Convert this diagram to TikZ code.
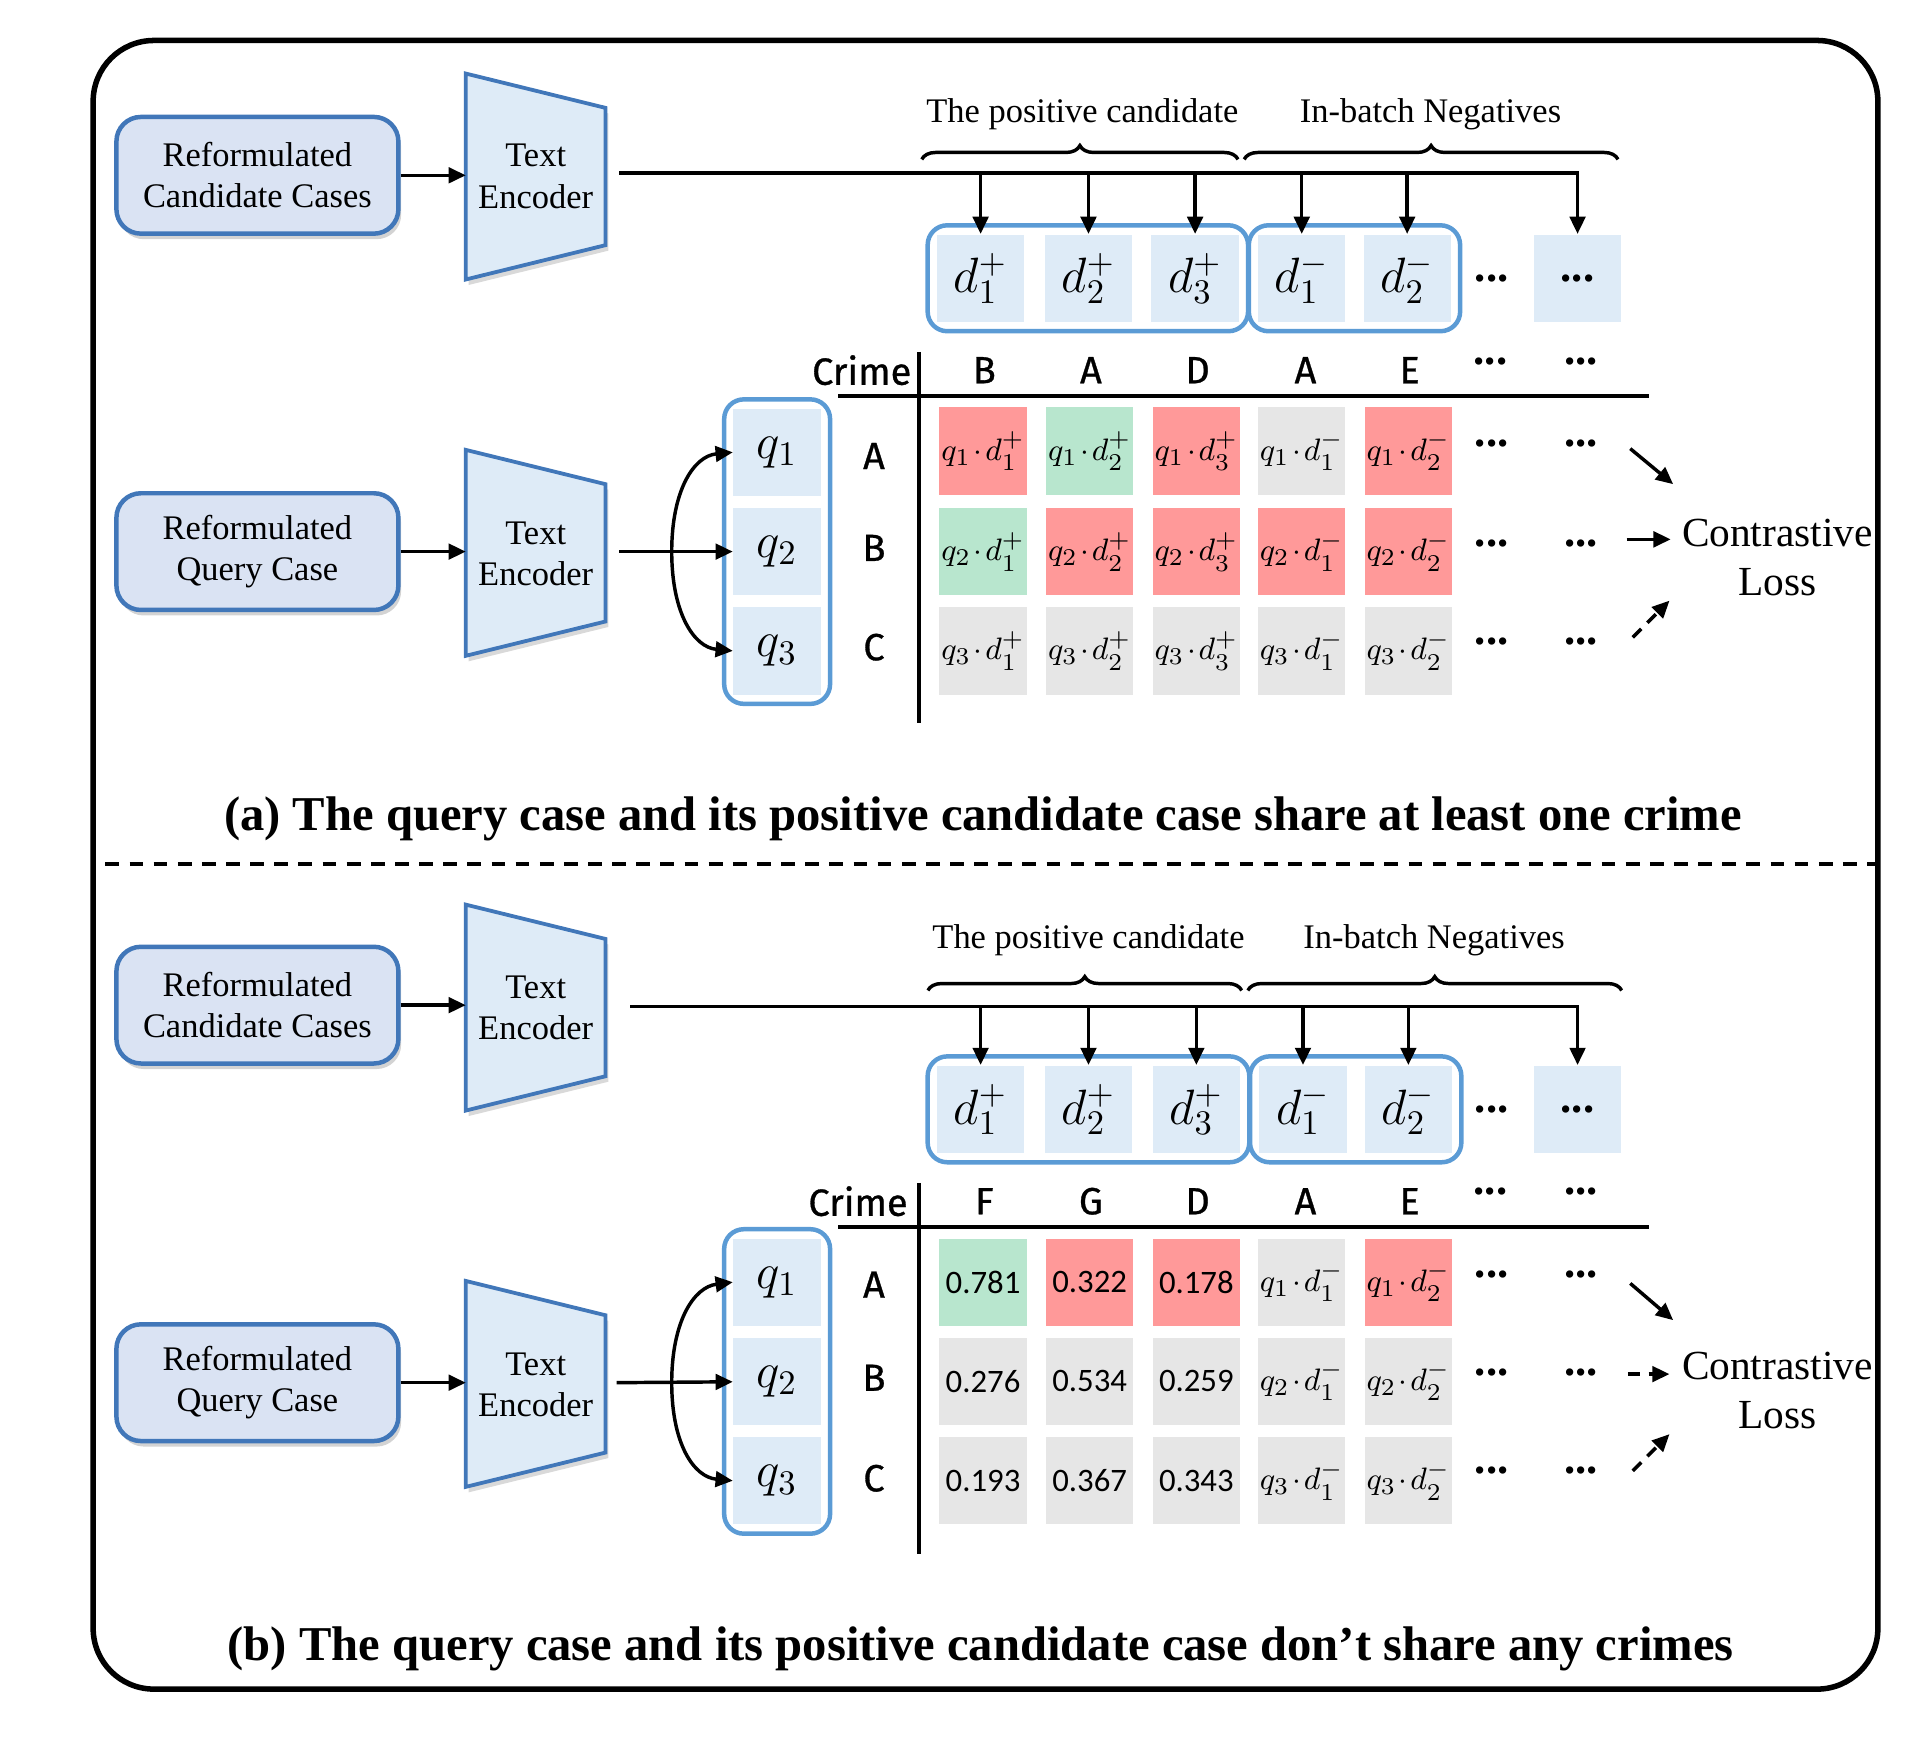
\documentclass[tikz,border=0pt]{standalone}
\usepackage{fontspec}
\setmainfont{Liberation Serif}
\newfontfamily\crimefont[FakeBold=0.8]{Fira Sans}
\newfontfamily\numfont{Carlito}
\usetikzlibrary{arrows.meta,fit,shadows,decorations.pathreplacing}
\definecolor{inblue}{RGB}{65,119,185}
\definecolor{grpblue}{RGB}{91,155,213}
\definecolor{inboxfill}{RGB}{218,227,243}
\definecolor{cellblue}{RGB}{222,235,247}
\definecolor{cellred}{RGB}{255,153,153}
\definecolor{cellgreen}{RGB}{184,230,206}
\definecolor{cellgray}{RGB}{230,230,230}
\newcommand\cellval[1]{{\numfont\fontsize{9.5}{11}\selectfont #1}}
\newcommand\qdot{\mskip1.5mu{\cdot}\mskip1.5mu}

\tikzset{
  inbox/.style={draw=inblue, fill=inboxfill, line width=1.3pt, rounded corners=0.25cm,
    minimum width=2.875cm, minimum height=1.19cm, align=center,
    font=\fontsize{10}{12}\selectfont,
    drop shadow={shadow xshift=0.8pt, shadow yshift=-1.6pt, opacity=0.35}},
  encoder/.style={draw=inblue, fill=cellblue, line width=1.1pt,
    drop shadow={shadow xshift=0.8pt, shadow yshift=-1.6pt, opacity=0.3}},
  enctext/.style={align=center, font=\fontsize{10}{12}\selectfont},
  cell/.style={minimum width=0.89cm, minimum height=0.89cm, inner sep=0pt},
  dcell/.style={cell, fill=cellblue, font=\fontsize{14}{16}\selectfont},
  qcell/.style={cell, fill=cellblue, font=\fontsize{14.5}{16}\selectfont},
  mcell/.style={cell, font=\fontsize{9.5}{11}\selectfont},
  redcell/.style={mcell, fill=cellred},
  greencell/.style={mcell, fill=cellgreen},
  graycell/.style={mcell, fill=cellgray},
  grp/.style={draw=grpblue, line width=1.3pt, rounded corners=0.2cm, inner sep=2.5pt},
  flow/.style={-{Triangle[length=5pt,width=4.5pt]}, line width=1pt},
  dflow/.style={flow, dash pattern=on 3.5pt off 2.5pt},
  brc/.style={decorate, decoration={brace, amplitude=4pt}, line width=1pt},
  lbl/.style={font=\fontsize{10}{12}\selectfont},
  crime/.style={font=\crimefont\fontsize{11}{12}\selectfont},
  dotsty/.style={font=\fontsize{13}{15}\selectfont\bfseries},
  loss/.style={align=center, font=\fontsize{12}{14.2}\selectfont},
  caption/.style={font=\fontsize{14.1}{16}\selectfont\bfseries},
  axis/.style={line width=1.2pt}
}

\begin{document}
\begin{tikzpicture}[x=0.0125cm, y=-0.0125cm]
	\useasboundingbox (0,0) rectangle (1568,1424);

	%%%%% FRAME %%%%%
	\draw[line width=1.6pt, rounded corners=0.62cm] (76,33) rectangle (1532,1378);
	\draw[line width=1pt, dash pattern=on 4pt off 3pt] (86,705) -- (1532,705);

	%%%%% (a) %%%%%

	% candidates -> encoder
	\node[inbox] (acand) at (210,143) {Reformulated\\Candidate Cases};
	\path[encoder] (380,60) -- (494,88) -- (494,200) -- (380,228) -- cycle;
	\node[enctext] (aenc) at (437,144) {Text\\Encoder};
	\coordinate (aencin) at (380,143);
	\coordinate (aencout) at (505,141);
	\draw[flow] (acand) -- (aencin);

	% candidate embeddings
	\node[dcell] (ad1) at (800,227) {$d_1^+$};
	\node[dcell] (ad2) at (888,227) {$d_2^+$};
	\node[dcell] (ad3) at (975,227) {$d_3^+$};
	\node[dcell] (ad4) at (1062,227) {$d_1^-$};
	\node[dcell] (ad5) at (1148,227) {$d_2^-$};
	\node[dotsty] (adots) at (1217,227) {...};
	\node[dcell, font=\fontsize{13}{15}\selectfont\bfseries] (adn) at (1287,227) {...};
	\node[grp, fit=(ad1)(ad3)] (apos) {};
	\node[grp, fit=(ad4)(ad5)] (aneg) {};

	\draw[flow] (aencout) -| (adn.north);
	\draw[flow] (ad1.north |- aencout) -- (ad1.north);
	\draw[flow] (ad2.north |- aencout) -- (ad2.north);
	\draw[flow] (ad3.north |- aencout) -- (ad3.north);
	\draw[flow] (ad4.north |- aencout) -- (ad4.north);
	\draw[flow] (ad5.north |- aencout) -- (ad5.north);

	\draw[brc] (752,130) -- (1010,130);
	\draw[brc] (1015,130) -- (1320,130);
	\node[lbl] (aposlbl) at (883,93) {The positive candidate};
	\node[lbl] (aneglbl) at (1167,93) {In-batch Negatives};

	% query -> encoder -> q
	\node[inbox] (aquery) at (210,450) {Reformulated\\Query Case};
	\path[encoder] (380,367) -- (494,395) -- (494,507) -- (380,535) -- cycle;
	\node[enctext] (aenc2) at (437,452) {Text\\Encoder};
	\coordinate (aenc2in) at (380,450);
	\coordinate (aenc2out) at (505,450);
	\coordinate (asplit) at (548,450);
	\draw[flow] (aquery) -- (aenc2in);

	\node[qcell] (aq1) at (634,369) {$q_1$};
	\node[qcell] (aq2) at (634,450) {$q_2$};
	\node[qcell] (aq3) at (634,531) {$q_3$};
	\node[grp, fit=(aq1)(aq3)] (aqgrp) {};

	\draw[flow] (aenc2out) -- (aq2);
	\draw[flow] (asplit) .. controls (548,400) and (566,372) .. (aq1.west);
	\draw[flow] (asplit) .. controls (548,500) and (566,528) .. (aq3.west);

	% crime table
	\node[crime] (acrime) at (703,302) {Crime};
	\node[crime] (ah1) at (803,302) {B};
	\node[crime] (ah2) at (890,302) {A};
	\node[crime] (ah3) at (977,302) {D};
	\node[crime] (ah4) at (1065,302) {A};
	\node[crime] (ah5) at (1150,302) {E};
	\node[dotsty] (ah6) at (1216,295) {...};
	\node[dotsty] (ah7) at (1290,295) {...};
	\coordinate (ahl) at (684,323);
	\coordinate (ahr) at (1345,323);
	\coordinate (avt) at (750,287);
	\coordinate (avb) at (750,590);
	\draw[axis] (ahl) -- (ahr);
	\draw[axis] (avt) -- (avb);

	\node[crime] (ara) at (713,372) {A};
	\node[crime] (arb) at (713,447) {B};
	\node[crime] (arc) at (713,528) {C};

	\node[redcell] (am11) at (802,368) {$q_1\qdot d_1^+$};
	\node[greencell] (am12) at (889,368) {$q_1\qdot d_2^+$};
	\node[redcell] (am13) at (976,368) {$q_1\qdot d_3^+$};
	\node[graycell] (am14) at (1062,368) {$q_1\qdot d_1^-$};
	\node[redcell] (am15) at (1149,368) {$q_1\qdot d_2^-$};
	\node[dotsty] (am16) at (1217,362) {...};
	\node[dotsty] (am17) at (1290,362) {...};

	\node[greencell] (am21) at (802,450) {$q_2\qdot d_1^+$};
	\node[redcell] (am22) at (889,450) {$q_2\qdot d_2^+$};
	\node[redcell] (am23) at (976,450) {$q_2\qdot d_3^+$};
	\node[redcell] (am24) at (1062,450) {$q_2\qdot d_1^-$};
	\node[redcell] (am25) at (1149,450) {$q_2\qdot d_2^-$};
	\node[dotsty] (am26) at (1217,443) {...};
	\node[dotsty] (am27) at (1290,443) {...};

	\node[graycell] (am31) at (802,531) {$q_3\qdot d_1^+$};
	\node[graycell] (am32) at (889,531) {$q_3\qdot d_2^+$};
	\node[graycell] (am33) at (976,531) {$q_3\qdot d_3^+$};
	\node[graycell] (am34) at (1062,531) {$q_3\qdot d_1^-$};
	\node[graycell] (am35) at (1149,531) {$q_3\qdot d_2^-$};
	\node[dotsty] (am36) at (1217,523) {...};
	\node[dotsty] (am37) at (1290,523) {...};

	% loss
	\node[loss] (aloss) at (1450,455) {Contrastive\\Loss};
	\coordinate (al1s) at (1330,366);
	\coordinate (al1e) at (1365,395);
	\coordinate (al2s) at (1327,440);
	\coordinate (al2e) at (1363,440);
	\coordinate (al3s) at (1332,520);
	\coordinate (al3e) at (1362,490);
	\draw[flow] (al1s) -- (al1e);
	\draw[flow] (al2s) -- (al2e);
	\draw[dflow] (al3s) -- (al3e);

	\node[caption] (acap) at (802,668) {(a) The query case and its positive candidate case share at least one crime};

	%%%%% (b) %%%%%

	% candidates -> encoder
	\node[inbox] (bcand) at (210,820) {Reformulated\\Candidate Cases};
	\path[encoder] (380,738) -- (494,766) -- (494,878) -- (380,906) -- cycle;
	\node[enctext] (benc) at (437,822) {Text\\Encoder};
	\coordinate (bencin) at (380,820);
	\coordinate (bencout) at (514,821);
	\draw[flow] (bcand) -- (bencin);

	% candidate embeddings
	\node[dcell] (bd1) at (800,905) {$d_1^+$};
	\node[dcell] (bd2) at (888,905) {$d_2^+$};
	\node[dcell] (bd3) at (976,905) {$d_3^+$};
	\node[dcell] (bd4) at (1063,905) {$d_1^-$};
	\node[dcell] (bd5) at (1149,905) {$d_2^-$};
	\node[dotsty] (bdots) at (1217,905) {...};
	\node[dcell, font=\fontsize{13}{15}\selectfont\bfseries] (bdn) at (1287,905) {...};
	\node[grp, fit=(bd1)(bd3)] (bpos) {};
	\node[grp, fit=(bd4)(bd5)] (bneg) {};

	\draw[flow] (bencout) -| (bdn.north);
	\draw[flow] (bd1.north |- bencout) -- (bd1.north);
	\draw[flow] (bd2.north |- bencout) -- (bd2.north);
	\draw[flow] (bd3.north |- bencout) -- (bd3.north);
	\draw[flow] (bd4.north |- bencout) -- (bd4.north);
	\draw[flow] (bd5.north |- bencout) -- (bd5.north);

	\draw[brc] (757,808) -- (1013,808);
	\draw[brc] (1018,808) -- (1323,808);
	\node[lbl] (bposlbl) at (888,767) {The positive candidate};
	\node[lbl] (bneglbl) at (1170,767) {In-batch Negatives};

	% query -> encoder -> q
	\node[inbox] (bquery) at (210,1128) {Reformulated\\Query Case};
	\path[encoder] (380,1045) -- (494,1073) -- (494,1185) -- (380,1213) -- cycle;
	\node[enctext] (benc2) at (437,1130) {Text\\Encoder};
	\coordinate (benc2in) at (380,1128);
	\coordinate (benc2out) at (503,1128);
	\coordinate (bsplit) at (548,1128);
	\draw[flow] (bquery) -- (benc2in);

	\node[qcell] (bq1) at (634,1046) {$q_1$};
	\node[qcell] (bq2) at (634,1127) {$q_2$};
	\node[qcell] (bq3) at (634,1208) {$q_3$};
	\node[grp, fit=(bq1)(bq3)] (bqgrp) {};

	\draw[flow] (benc2out) -- (bq2);
	\draw[flow] (bsplit) .. controls (548,1078) and (566,1050) .. (bq1.west);
	\draw[flow] (bsplit) .. controls (548,1178) and (566,1205) .. (bq3.west);

	% crime table
	\node[crime] (bcrime) at (700,980) {Crime};
	\node[crime] (bh1) at (803,980) {F};
	\node[crime] (bh2) at (890,980) {G};
	\node[crime] (bh3) at (977,980) {D};
	\node[crime] (bh4) at (1065,980) {A};
	\node[crime] (bh5) at (1150,980) {E};
	\node[dotsty] (bh6) at (1216,972) {...};
	\node[dotsty] (bh7) at (1290,972) {...};
	\coordinate (bhl) at (684,1001);
	\coordinate (bhr) at (1345,1001);
	\coordinate (bvt) at (750,965);
	\coordinate (bvb) at (750,1268);
	\draw[axis] (bhl) -- (bhr);
	\draw[axis] (bvt) -- (bvb);

	\node[crime] (bra) at (713,1048) {A};
	\node[crime] (brb) at (713,1124) {B};
	\node[crime] (brc) at (713,1206) {C};

	\node[greencell] (bm11) at (802,1046) {\cellval{0.781}};
	\node[redcell] (bm12) at (889,1046) {\cellval{0.322}};
	\node[redcell] (bm13) at (976,1046) {\cellval{0.178}};
	\node[graycell] (bm14) at (1062,1046) {$q_1\qdot d_1^-$};
	\node[redcell] (bm15) at (1149,1046) {$q_1\qdot d_2^-$};
	\node[dotsty] (bm16) at (1217,1040) {...};
	\node[dotsty] (bm17) at (1290,1040) {...};

	\node[graycell] (bm21) at (802,1127) {\cellval{0.276}};
	\node[graycell] (bm22) at (889,1127) {\cellval{0.534}};
	\node[graycell] (bm23) at (976,1127) {\cellval{0.259}};
	\node[graycell] (bm24) at (1062,1127) {$q_2\qdot d_1^-$};
	\node[graycell] (bm25) at (1149,1127) {$q_2\qdot d_2^-$};
	\node[dotsty] (bm26) at (1217,1120) {...};
	\node[dotsty] (bm27) at (1290,1120) {...};

	\node[graycell] (bm31) at (802,1208) {\cellval{0.193}};
	\node[graycell] (bm32) at (889,1208) {\cellval{0.367}};
	\node[graycell] (bm33) at (976,1208) {\cellval{0.343}};
	\node[graycell] (bm34) at (1062,1208) {$q_3\qdot d_1^-$};
	\node[graycell] (bm35) at (1149,1208) {$q_3\qdot d_2^-$};
	\node[dotsty] (bm36) at (1217,1200) {...};
	\node[dotsty] (bm37) at (1290,1200) {...};

	% loss
	\node[loss] (bloss) at (1450,1134) {Contrastive\\Loss};
	\coordinate (bl1s) at (1330,1047);
	\coordinate (bl1e) at (1365,1077);
	\coordinate (bl2s) at (1328,1121);
	\coordinate (bl2e) at (1362,1121);
	\coordinate (bl3s) at (1332,1200);
	\coordinate (bl3e) at (1362,1170);
	\draw[flow] (bl1s) -- (bl1e);
	\draw[dflow] (bl2s) -- (bl2e);
	\draw[dflow] (bl3s) -- (bl3e);

	\node[caption] (bcap) at (800,1345) {(b) The query case and its positive candidate case don't share any crimes};
\end{tikzpicture}
\end{document}
